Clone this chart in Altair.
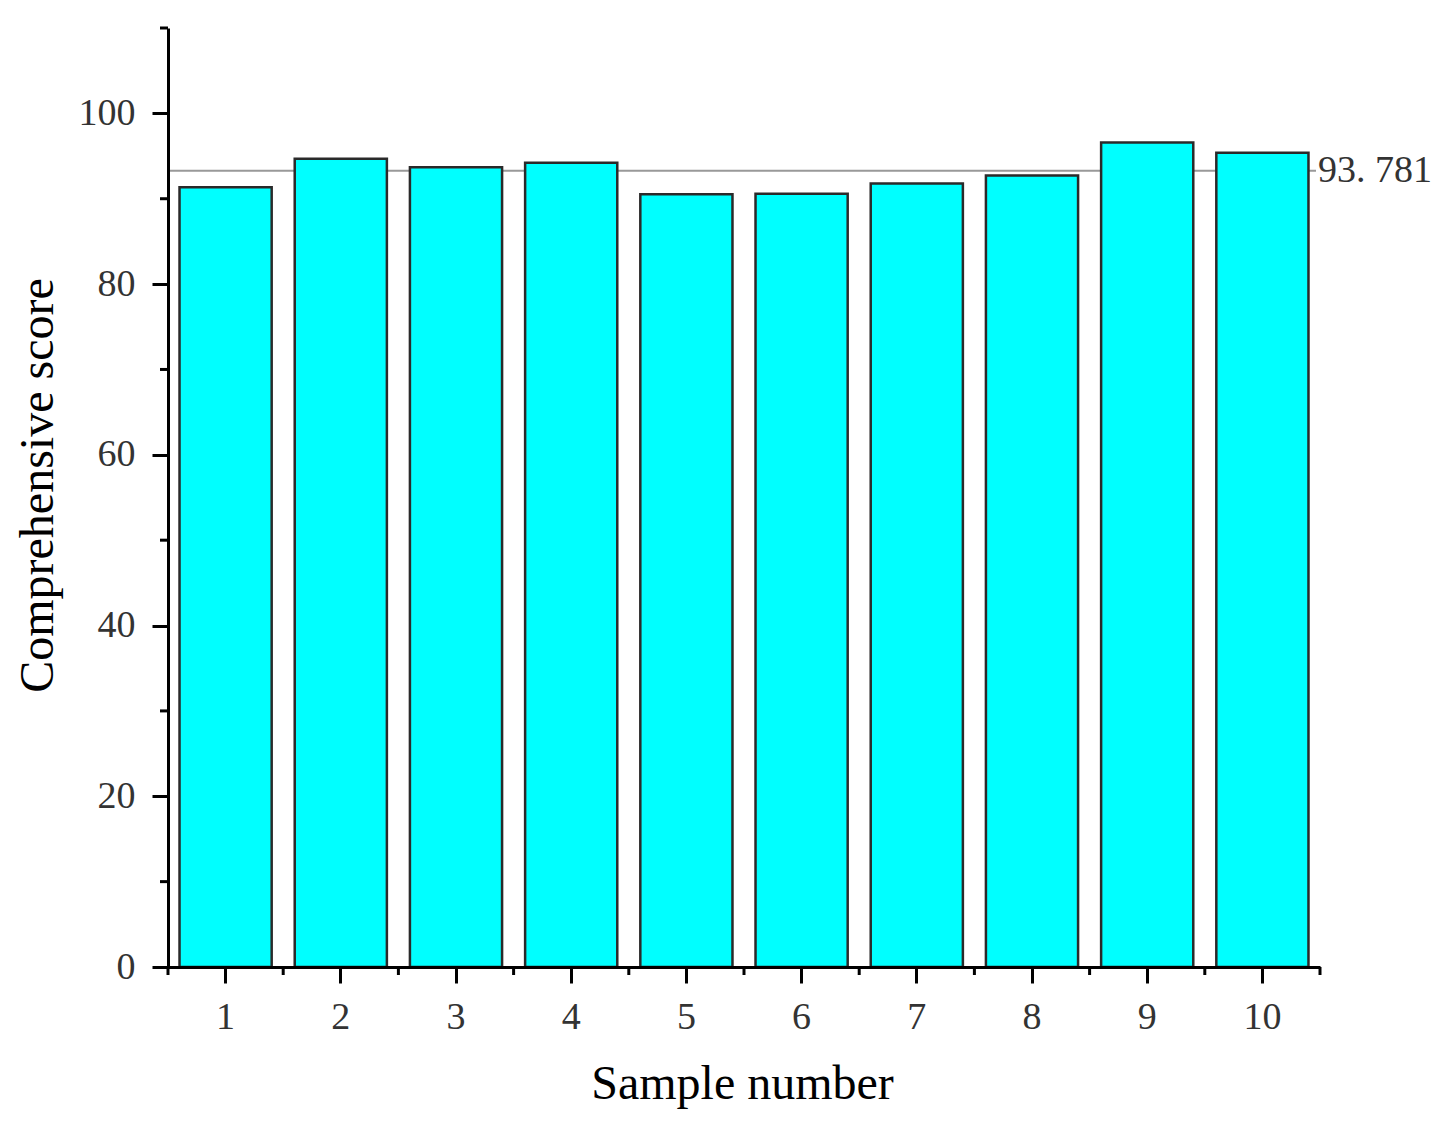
import altair as alt
import pandas as pd

# ---- data ----
samples = ["1", "2", "3", "4", "5", "6", "7", "8", "9", "10"]
scores = [91.35, 94.68, 93.7, 94.2, 90.53, 90.57, 91.78, 92.72, 96.6, 95.39]
mean_line_value = 93.27
mean_label = "93. 781"
y_major_ticks = [0, 20, 40, 60, 80, 100]
y_minor_ticks = [10, 30, 50, 70, 90, 110]
x_minor_ticks = [0.5, 1.5, 2.5, 3.5, 4.5, 5.5, 6.5, 7.5, 8.5, 9.5, 10.5]

W, H = 1152, 939
FONT = "Liberation Serif"

bars_df = pd.DataFrame({"sample": samples, "score": scores})
mean_df = pd.DataFrame({"score": [mean_line_value], "label": [mean_label]})
yminor_df = pd.DataFrame({"score": y_minor_ticks})
xminor_df = pd.DataFrame({"pos": x_minor_ticks})

yscale = alt.Scale(domain=[0, 110], nice=False, zero=True)
yaxis = alt.Axis(
    title="Comprehensive score",
    values=y_major_ticks,
    grid=False,
    labelFont=FONT,
    labelFontSize=38,
    labelColor="#333333",
    labelPadding=17,
    tickSize=16,
    tickWidth=3,
    tickColor="black",
    domainWidth=3,
    domainColor="black",
    titleFont=FONT,
    titleFontSize=48,
    titleFontWeight="normal",
    titleColor="black",
    titleBaseline="alphabetic",
    titleAngle=270,
    titleX=-116,
    titleY=457,
    zindex=1,
)


def ycol():
    return alt.Y("score:Q", scale=yscale, axis=yaxis, title="Comprehensive score")


mean_rule = alt.Chart(mean_df).mark_rule(color="#999999", strokeWidth=2).encode(
    y=ycol(),
    x=alt.value(0),
    x2=alt.value(W - 4),
)

mean_text = alt.Chart(mean_df).mark_text(
    align="left", baseline="middle", font=FONT, fontSize=38, color="#333333", dx=-2
).encode(
    y=ycol(),
    x=alt.value(W),
    text="label:N",
)

bars = alt.Chart(bars_df).mark_bar(
    color="#00FFFF", stroke="#2a2a2a", strokeWidth=2.5
).encode(
    x=alt.X(
        "sample:N",
        sort=samples,
        scale=alt.Scale(paddingInner=0.2, paddingOuter=0.1),
        axis=alt.Axis(
            title="Sample number",
            labelAngle=0,
            labelFont=FONT,
            labelFontSize=38,
            labelColor="#333333",
            labelPadding=15,
            tickSize=16,
            tickWidth=3,
            tickColor="black",
            domainWidth=3,
            domainColor="black",
            titleFont=FONT,
            titleFontSize=48,
            titleFontWeight="normal",
            titleColor="black",
            titleBaseline="alphabetic",
            titleY=131,
            titleX=W / 2 - 2,
            zindex=1,
        ),
    ),
    y=ycol(),
)

y_minor = alt.Chart(yminor_df).mark_rule(color="black", strokeWidth=3).encode(
    y=ycol(),
    x=alt.value(-8),
    x2=alt.value(0),
)

x_minor = alt.Chart(xminor_df).mark_rule(color="black", strokeWidth=3).encode(
    x=alt.X("pos:Q", scale=alt.Scale(domain=[0.5, 10.5], nice=False, zero=False), axis=None),
    y=alt.value(H),
    y2=alt.value(H + 8),
)

chart = (
    alt.layer(mean_rule, bars, mean_text, y_minor, x_minor)
    .resolve_scale(x="independent")
    .properties(
        width=W,
        height=H,
        autosize=alt.AutoSizeParams(type="none"),
        padding={"left": 160, "top": 20, "right": 120, "bottom": 144},
        background="white",
    )
    .configure_view(stroke=None)
)

chart.save("out.html", embed_options={"renderer": "svg", "actions": False})
